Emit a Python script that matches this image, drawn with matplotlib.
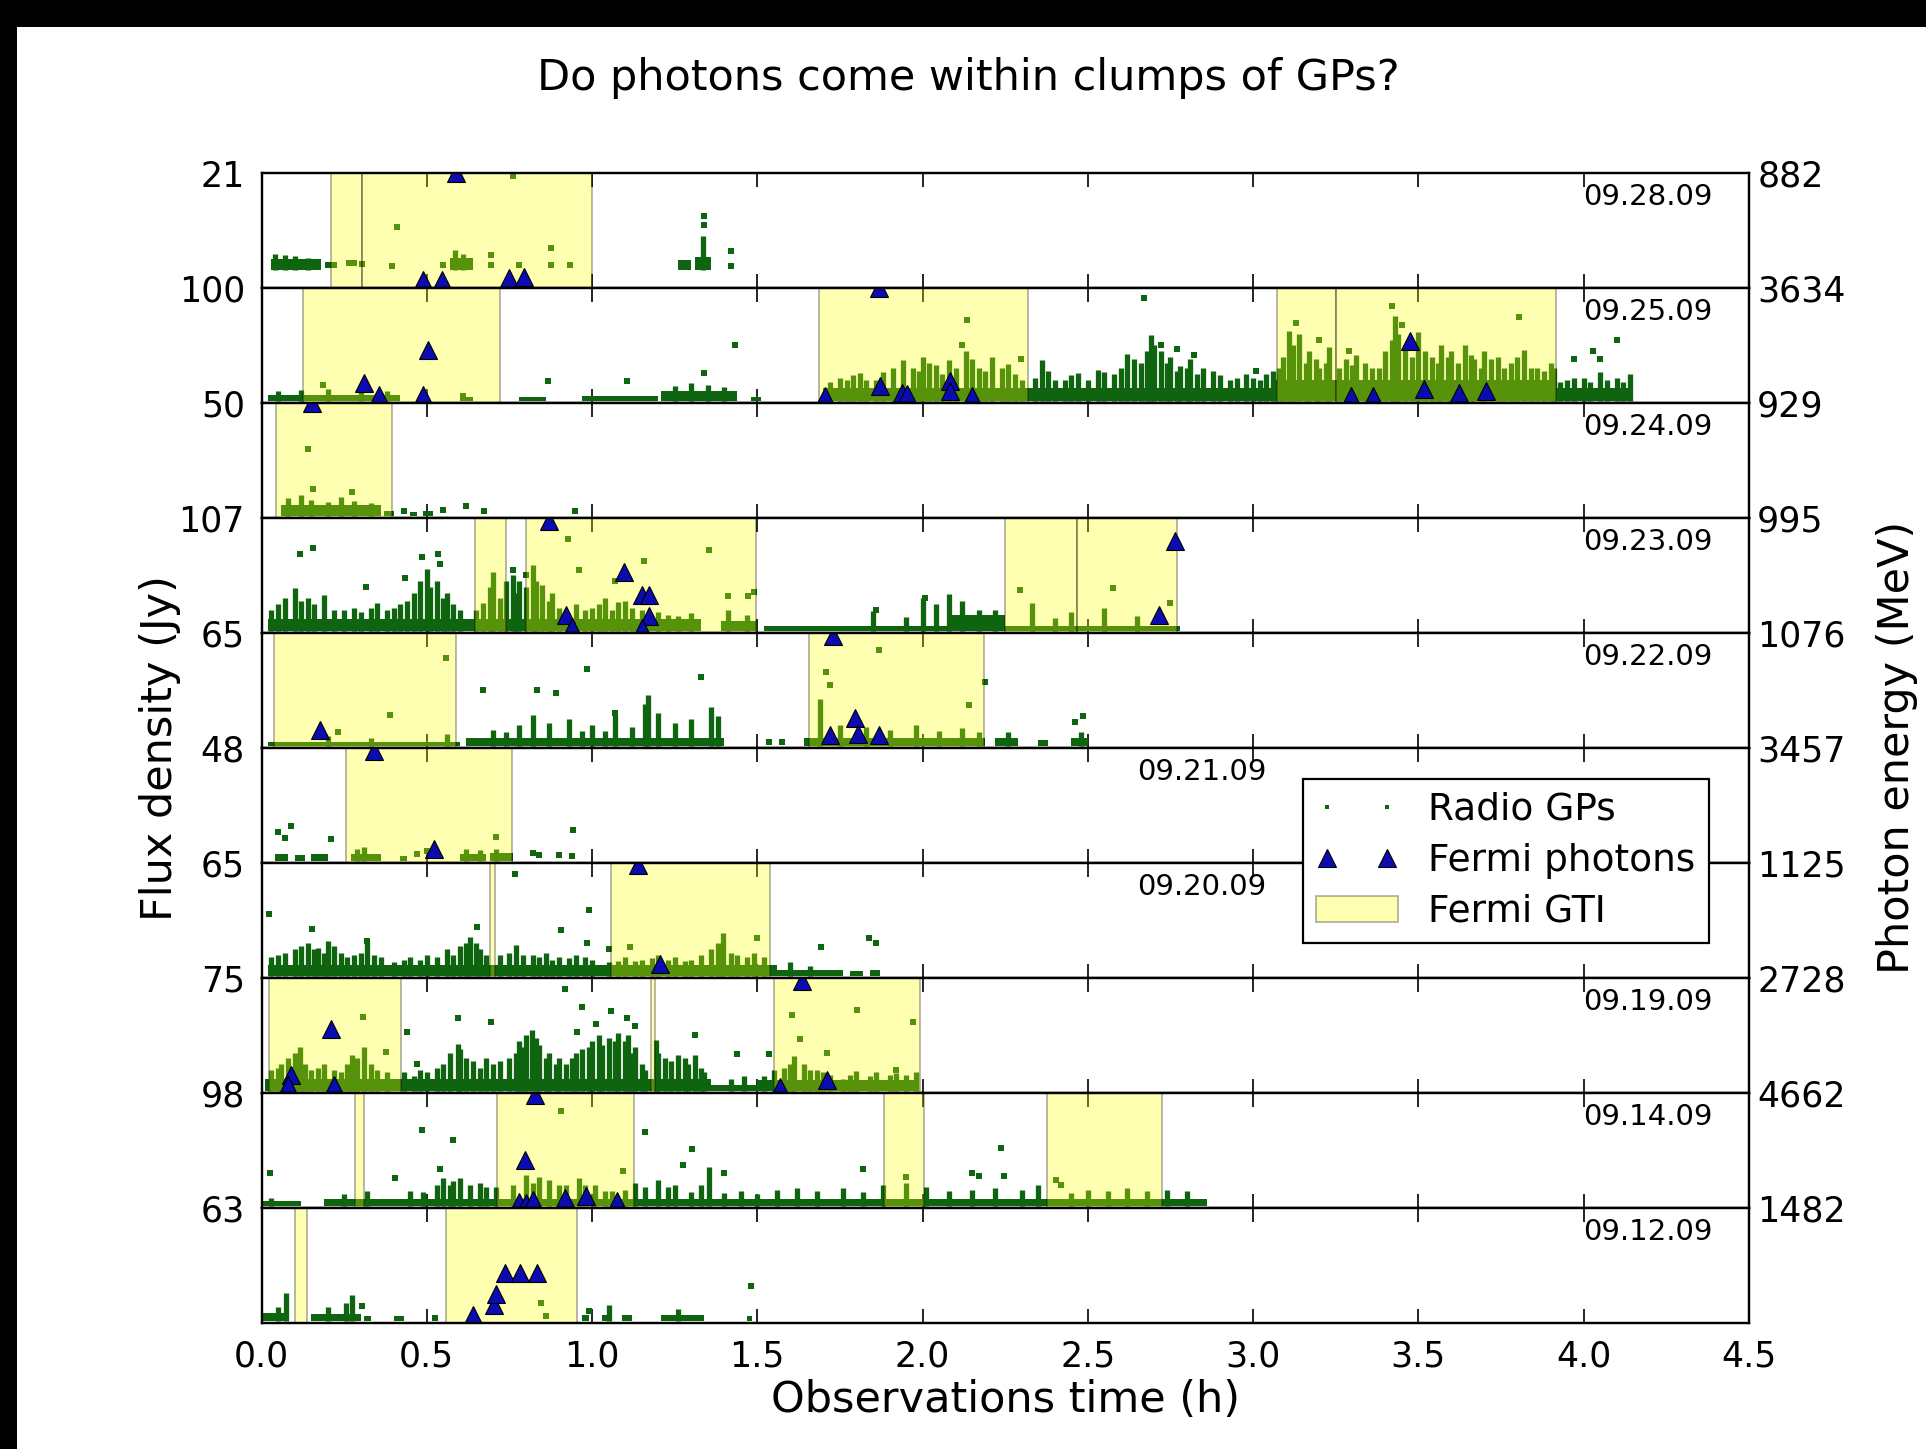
import matplotlib
matplotlib.use("Agg")
import matplotlib.pyplot as plt
from matplotlib.lines import Line2D
from matplotlib.patches import Patch, Rectangle

# ---------------- data (time in hours, heights normalised to each panel) ----------------
dates = ["09.28.09", "09.25.09", "09.24.09", "09.23.09", "09.22.09",
         "09.21.09", "09.20.09", "09.19.09", "09.14.09", "09.12.09"]
flux_labels = ["21", "100", "50", "107", "65", "48", "65", "75", "98", "63"]
energy_labels = ["882", "3634", "929", "995", "1076", "3457", "1125", "2728", "4662", "1482"]
gp_base = [0.16, 0.02, 0.02, 0.02, 0.02, 0.02, 0.02, 0.02, 0.02, 0.02]

# Fermi good time intervals (start, end)
gti_0928 = [(0.21, 0.305), (0.305, 1.0)]
gti_0925 = [(0.125, 0.72), (1.686, 2.32), (3.073, 3.252), (3.252, 3.916)]
gti_0924 = [(0.043, 0.395)]
gti_0923 = [(0.646, 0.74), (0.80, 1.497), (2.249, 2.467), (2.467, 2.77)]
gti_0922 = [(0.037, 0.588), (1.657, 2.186)]
gti_0921 = [(0.257, 0.757)]
gti_0920 = [(0.692, 0.705), (1.056, 1.538)]
gti_0919 = [(0.022, 0.423), (1.177, 1.19), (1.551, 1.993)]
gti_0914 = [(0.283, 0.31), (0.712, 1.128), (1.882, 2.005), (2.377, 2.725)]
gti_0912 = [(0.1, 0.138), (0.557, 0.953)]

# Fermi photons (time, normalised energy position)
ph_0928 = [(0.589, 1.0), (0.487, 0.07), (0.545, 0.07), (0.748, 0.09), (0.794, 0.1)]
ph_0925 = [(0.311, 0.17), (0.356, 0.07), (0.504, 0.46), (0.49, 0.07), (1.706, 0.065),
           (1.868, 1.0), (1.872, 0.15), (1.937, 0.09), (1.954, 0.08), (2.083, 0.19),
           (2.083, 0.1), (2.149, 0.06), (3.297, 0.06), (3.362, 0.06), (3.476, 0.54),
           (3.517, 0.12), (3.624, 0.09), (3.705, 0.1)]
ph_0924 = [(0.152, 1.0)]
ph_0923 = [(0.869, 0.97), (0.922, 0.16), (0.938, 0.055), (1.097, 0.53), (1.15, 0.33),
           (1.172, 0.33), (1.172, 0.15), (1.15, 0.04), (2.716, 0.16), (2.763, 0.8)]
ph_0922 = [(0.178, 0.16), (1.728, 0.97), (1.721, 0.11), (1.797, 0.26), (1.804, 0.12), (1.868, 0.11)]
ph_0921 = [(0.341, 0.97), (0.522, 0.12)]
ph_0920 = [(1.138, 0.98), (1.206, 0.12)]
ph_0919 = [(0.211, 0.56), (0.09, 0.155), (0.079, 0.07), (0.219, 0.07), (1.634, 0.97),
           (1.569, 0.05), (1.712, 0.11)]
ph_0914 = [(0.828, 0.98), (0.798, 0.42), (0.78, 0.05), (0.80, 0.04), (0.822, 0.07),
           (0.918, 0.09), (0.981, 0.1), (1.074, 0.06)]
ph_0912 = [(0.64, 0.065), (0.702, 0.16), (0.71, 0.25), (0.738, 0.43), (0.782, 0.43), (0.833, 0.43)]

# Radio giant pulses: dense bands (start, end, top), spikes (time, top), isolated pulses (time, y)
band_0928 = [(0.03, 0.18, 0.25), (0.57, 0.64, 0.26), (1.26, 1.30, 0.24), (1.31, 1.36, 0.27)]
spk_0928 = [(0.04, 0.3), (0.07, 0.29), (0.1, 0.28), (0.14, 0.26), (0.585, 0.33), (0.61, 0.3),
            (1.335, 0.45)]
dot_0928 = [(0.2, 0.2), (0.22, 0.2), (0.265, 0.22), (0.28, 0.22), (0.305, 0.21), (0.395, 0.19),
            (0.41, 0.53), (0.548, 0.2), (0.695, 0.29), (0.695, 0.2), (0.76, 0.97), (0.78, 0.2),
            (0.875, 0.35), (0.875, 0.2), (0.934, 0.2), (1.338, 0.55), (1.34, 0.63),
            (1.42, 0.32), (1.42, 0.19)]

band_0925 = [(0.02, 0.42, 0.07), (0.60, 0.64, 0.05), (0.78, 0.86, 0.05), (0.97, 1.20, 0.06),
             (1.21, 1.44, 0.1), (1.48, 1.51, 0.05), (1.70, 2.32, 0.13), (2.32, 3.07, 0.13),
             (3.07, 3.92, 0.2), (3.92, 4.15, 0.13)]
spk_0925 = [(0.05, 0.1), (0.12, 0.11), (0.2, 0.12), (0.3, 0.12), (0.38, 0.1),
            (1.25, 0.15), (1.3, 0.17), (1.35, 0.16), (1.4, 0.14),
            (1.72, 0.18), (1.75, 0.22), (1.77, 0.2), (1.79, 0.24), (1.81, 0.26), (1.83, 0.2),
            (1.86, 0.2), (1.88, 0.27), (1.91, 0.3), (1.94, 0.37), (1.97, 0.3), (1.99, 0.28),
            (2.0, 0.4), (2.02, 0.35), (2.04, 0.33), (2.06, 0.25), (2.08, 0.37), (2.1, 0.3),
            (2.13, 0.45), (2.15, 0.38), (2.17, 0.3), (2.19, 0.28), (2.21, 0.4), (2.24, 0.3),
            (2.26, 0.34), (2.28, 0.25), (2.3, 0.2), (2.34, 0.22), (2.36, 0.37), (2.38, 0.28),
            (2.4, 0.2), (2.43, 0.2), (2.45, 0.24), (2.47, 0.26), (2.5, 0.2), (2.53, 0.29),
            (2.55, 0.27), (2.58, 0.25), (2.6, 0.3), (2.62, 0.43), (2.64, 0.38), (2.66, 0.35),
            (2.68, 0.45), (2.69, 0.59), (2.7, 0.5), (2.72, 0.45), (2.74, 0.35), (2.75, 0.4),
            (2.77, 0.28), (2.78, 0.32), (2.8, 0.3), (2.81, 0.38), (2.83, 0.25), (2.85, 0.3),
            (2.88, 0.28), (2.9, 0.24), (2.93, 0.2), (2.95, 0.22), (2.98, 0.25), (3.0, 0.22),
            (3.02, 0.2), (3.04, 0.25), (3.06, 0.28), (3.08, 0.3), (3.09, 0.4), (3.11, 0.63),
            (3.12, 0.5), (3.14, 0.6), (3.16, 0.35), (3.17, 0.45), (3.19, 0.38), (3.2, 0.3),
            (3.22, 0.35), (3.23, 0.49), (3.26, 0.3), (3.28, 0.38), (3.3, 0.33), (3.31, 0.42),
            (3.34, 0.35), (3.36, 0.3), (3.38, 0.3), (3.4, 0.45), (3.42, 0.55), (3.43, 0.76),
            (3.44, 0.6), (3.46, 0.5), (3.48, 0.4), (3.5, 0.62), (3.52, 0.45), (3.54, 0.4),
            (3.56, 0.35), (3.57, 0.5), (3.59, 0.4), (3.6, 0.45), (3.62, 0.35), (3.64, 0.5),
            (3.66, 0.42), (3.67, 0.38), (3.69, 0.3), (3.7, 0.45), (3.72, 0.38), (3.74, 0.4),
            (3.76, 0.3), (3.78, 0.35), (3.8, 0.4), (3.82, 0.46), (3.84, 0.3), (3.86, 0.3),
            (3.88, 0.28), (3.9, 0.35), (3.91, 0.3), (3.93, 0.18), (3.95, 0.2), (3.97, 0.22),
            (4.0, 0.22), (4.02, 0.18), (4.05, 0.27), (4.07, 0.2), (4.1, 0.22), (4.12, 0.18),
            (4.14, 0.25)]
dot_0925 = [(0.185, 0.157), (0.61, 0.06), (0.868, 0.19), (1.107, 0.19), (1.339, 0.26),
            (1.433, 0.5), (2.135, 0.72), (2.12, 0.5), (2.299, 0.38), (2.669, 0.91),
            (2.72, 0.5), (2.77, 0.47), (2.82, 0.42), (3.01, 0.28), (3.13, 0.7), (3.2, 0.55),
            (3.42, 0.84), (3.45, 0.68), (3.805, 0.75), (3.29, 0.45), (3.97, 0.38),
            (4.03, 0.45), (4.05, 0.38), (4.102, 0.55)]

band_0924 = [(0.06, 0.36, 0.11), (0.37, 0.40, 0.06), (0.45, 0.47, 0.05), (0.49, 0.52, 0.06)]
spk_0924 = [(0.08, 0.17), (0.12, 0.2), (0.15, 0.16), (0.2, 0.14), (0.24, 0.18), (0.28, 0.15),
            (0.33, 0.13)]
dot_0924 = [(0.142, 0.6), (0.156, 0.25), (0.275, 0.23), (0.55, 0.07), (0.62, 0.1),
            (0.673, 0.06), (0.948, 0.06), (0.43, 0.06)]

band_0923 = [(0.02, 1.33, 0.12), (1.39, 1.50, 0.1), (1.52, 2.08, 0.06), (2.08, 2.25, 0.16),
             (2.25, 2.78, 0.06)]
spk_0923 = [(0.03, 0.2), (0.05, 0.25), (0.07, 0.3), (0.1, 0.39), (0.12, 0.28), (0.14, 0.3),
            (0.16, 0.25), (0.19, 0.33), (0.22, 0.2), (0.25, 0.2), (0.28, 0.22), (0.3, 0.18),
            (0.33, 0.22), (0.35, 0.26), (0.38, 0.2), (0.4, 0.22), (0.42, 0.25), (0.44, 0.28),
            (0.46, 0.35), (0.48, 0.45), (0.5, 0.56), (0.51, 0.4), (0.53, 0.45), (0.55, 0.3),
            (0.56, 0.35), (0.58, 0.25), (0.6, 0.2), (0.65, 0.2), (0.67, 0.26), (0.69, 0.4),
            (0.7, 0.53), (0.72, 0.3), (0.74, 0.45), (0.76, 0.5), (0.77, 0.35), (0.78, 0.45),
            (0.8, 0.4), (0.82, 0.59), (0.83, 0.45), (0.85, 0.42), (0.87, 0.28), (0.88, 0.35),
            (0.9, 0.22), (0.95, 0.25), (0.98, 0.2), (1.0, 0.22), (1.02, 0.25), (1.04, 0.3),
            (1.06, 0.2), (1.08, 0.27), (1.1, 0.28), (1.12, 0.22), (1.15, 0.2), (1.2, 0.18),
            (1.23, 0.16), (1.26, 0.15), (1.3, 0.17), (1.41, 0.2), (1.47, 0.16), (1.85, 0.19),
            (1.95, 0.14), (2.0, 0.3), (2.04, 0.25), (2.08, 0.34), (2.12, 0.28), (2.17, 0.2),
            (2.22, 0.2), (2.33, 0.26), (2.4, 0.13), (2.45, 0.18), (2.55, 0.22), (2.65, 0.15)]
dot_0923 = [(0.116, 0.69), (0.156, 0.74), (0.315, 0.4), (0.434, 0.48), (0.485, 0.66),
            (0.535, 0.69), (0.54, 0.6), (0.926, 0.82), (0.962, 0.55), (1.07, 0.45),
            (1.158, 0.63), (1.353, 0.72), (1.411, 0.32), (1.473, 0.32), (1.49, 0.36),
            (0.76, 0.55), (0.8, 0.5), (1.86, 0.2), (2.294, 0.37), (2.577, 0.39), (2.748, 0.26),
            (2.006, 0.3)]

band_0922 = [(0.02, 0.6, 0.05), (0.62, 1.40, 0.09), (1.64, 2.19, 0.09), (2.22, 2.29, 0.09),
             (2.35, 2.38, 0.07), (2.45, 2.50, 0.09)]
spk_0922 = [(0.2, 0.1), (0.33, 0.09), (0.56, 0.12), (0.7, 0.16), (0.74, 0.14), (0.78, 0.2),
            (0.82, 0.29), (0.87, 0.22), (0.93, 0.25), (0.97, 0.15), (1.0, 0.2), (1.04, 0.15),
            (1.07, 0.29), (1.12, 0.18), (1.16, 0.38), (1.17, 0.46), (1.2, 0.3), (1.25, 0.22),
            (1.3, 0.25), (1.36, 0.36), (1.38, 0.28), (1.69, 0.43), (1.75, 0.2), (1.83, 0.18),
            (1.9, 0.16), (1.98, 0.2), (2.05, 0.15), (2.12, 0.17), (2.17, 0.14), (2.26, 0.14),
            (2.48, 0.14)]
dot_0922 = [(0.232, 0.14), (0.39, 0.29), (0.557, 0.78), (0.67, 0.5), (0.832, 0.5), (0.89, 0.48),
            (0.984, 0.69), (1.07, 0.3), (1.331, 0.62), (1.535, 0.05), (1.575, 0.05),
            (1.708, 0.66), (1.867, 0.85), (2.142, 0.37), (2.19, 0.57), (2.486, 0.28),
            (2.46, 0.23), (1.72, 0.55)]

band_0921 = [(0.04, 0.08, 0.08), (0.1, 0.13, 0.07), (0.15, 0.2, 0.08), (0.27, 0.36, 0.08),
             (0.42, 0.44, 0.06), (0.6, 0.68, 0.08), (0.69, 0.76, 0.09)]
spk_0921 = [(0.29, 0.12), (0.31, 0.14), (0.62, 0.12), (0.66, 0.11), (0.71, 0.12)]
dot_0921 = [(0.05, 0.27), (0.07, 0.22), (0.09, 0.32), (0.21, 0.21), (0.47, 0.08), (0.5, 0.1),
            (0.709, 0.23), (0.82, 0.09), (0.84, 0.07), (0.9, 0.07), (0.94, 0.06), (0.941, 0.29)]

band_0920 = [(0.02, 1.56, 0.11), (1.56, 1.76, 0.07), (1.78, 1.82, 0.06), (1.84, 1.87, 0.07)]
spk_0920 = [(0.03, 0.18), (0.05, 0.2), (0.07, 0.22), (0.1, 0.25), (0.12, 0.28), (0.14, 0.3),
            (0.16, 0.25), (0.17, 0.26), (0.19, 0.22), (0.2, 0.32), (0.22, 0.28), (0.24, 0.22),
            (0.26, 0.18), (0.28, 0.2), (0.3, 0.22), (0.32, 0.32), (0.34, 0.2), (0.36, 0.18),
            (0.4, 0.14), (0.43, 0.16), (0.45, 0.18), (0.48, 0.16), (0.5, 0.2), (0.53, 0.18),
            (0.56, 0.25), (0.58, 0.2), (0.6, 0.28), (0.62, 0.3), (0.63, 0.36), (0.65, 0.3),
            (0.66, 0.25), (0.68, 0.2), (0.72, 0.2), (0.75, 0.22), (0.77, 0.29), (0.79, 0.2),
            (0.82, 0.2), (0.84, 0.18), (0.86, 0.22), (0.88, 0.16), (0.9, 0.18), (0.93, 0.17),
            (0.95, 0.2), (0.98, 0.18), (1.0, 0.16), (1.05, 0.14), (1.08, 0.15), (1.1, 0.18),
            (1.13, 0.15), (1.15, 0.16), (1.18, 0.17), (1.2, 0.2), (1.23, 0.16), (1.25, 0.18),
            (1.28, 0.15), (1.3, 0.16), (1.33, 0.2), (1.36, 0.25), (1.38, 0.3), (1.397, 0.39),
            (1.42, 0.22), (1.44, 0.2), (1.47, 0.18), (1.49, 0.22), (1.52, 0.18), (1.6, 0.14),
            (1.66, 0.1)]
dot_0920 = [(0.022, 0.56), (0.152, 0.43), (0.318, 0.32), (0.651, 0.44), (0.767, 0.9),
            (0.905, 0.42), (0.985, 0.3), (0.991, 0.59), (1.115, 0.27), (1.5, 0.35),
            (1.693, 0.27), (1.838, 0.35), (1.86, 0.3), (1.05, 0.25)]

band_0919 = [(0.01, 1.36, 0.12), (1.36, 1.50, 0.07), (1.50, 1.99, 0.11)]
spk_0919 = [(0.03, 0.2), (0.05, 0.22), (0.06, 0.25), (0.08, 0.3), (0.1, 0.35), (0.116, 0.4),
            (0.13, 0.25), (0.15, 0.2), (0.17, 0.22), (0.19, 0.25), (0.22, 0.2), (0.24, 0.18),
            (0.26, 0.25), (0.275, 0.33), (0.29, 0.3), (0.31, 0.4), (0.33, 0.25), (0.35, 0.2),
            (0.38, 0.18), (0.43, 0.18), (0.46, 0.15), (0.48, 0.2), (0.5, 0.18), (0.53, 0.22),
            (0.55, 0.25), (0.57, 0.35), (0.593, 0.43), (0.6, 0.38), (0.62, 0.3), (0.64, 0.28),
            (0.66, 0.22), (0.68, 0.3), (0.7, 0.25), (0.72, 0.28), (0.75, 0.3), (0.77, 0.35),
            (0.78, 0.45), (0.79, 0.4), (0.8, 0.5), (0.818, 0.55), (0.83, 0.48), (0.84, 0.42),
            (0.86, 0.3), (0.87, 0.35), (0.89, 0.25), (0.9, 0.3), (0.92, 0.25), (0.94, 0.3),
            (0.95, 0.35), (0.97, 0.38), (0.99, 0.4), (1.0, 0.45), (1.02, 0.5), (1.03, 0.42),
            (1.05, 0.48), (1.07, 0.45), (1.08, 0.52), (1.1, 0.45), (1.11, 0.5), (1.12, 0.35),
            (1.13, 0.4), (1.15, 0.25), (1.16, 0.2), (1.194, 0.46), (1.2, 0.35), (1.22, 0.3),
            (1.24, 0.28), (1.26, 0.33), (1.28, 0.3), (1.29, 0.25), (1.31, 0.33), (1.33, 0.22),
            (1.34, 0.18), (1.42, 0.12), (1.46, 0.15), (1.52, 0.15), (1.55, 0.2), (1.58, 0.22),
            (1.6, 0.25), (1.61, 0.32), (1.64, 0.25), (1.66, 0.2), (1.68, 0.2), (1.7, 0.18),
            (1.72, 0.16), (1.76, 0.12), (1.78, 0.16), (1.8, 0.19), (1.84, 0.15), (1.86, 0.18),
            (1.9, 0.16), (1.92, 0.17), (1.95, 0.16), (1.98, 0.18)]
dot_0919 = [(0.308, 0.66), (0.376, 0.36), (0.441, 0.53), (0.47, 0.25), (0.593, 0.65),
            (0.695, 0.62), (0.919, 0.9), (0.955, 0.53), (0.97, 0.75), (1.013, 0.6),
            (1.056, 0.71), (1.107, 0.65), (1.13, 0.58), (1.31, 0.5), (1.44, 0.34),
            (1.535, 0.34), (1.606, 0.68), (1.628, 0.47), (1.71, 0.35), (1.802, 0.72),
            (1.971, 0.62), (1.92, 0.2)]

band_0914 = [(0.0, 0.12, 0.06), (0.19, 2.86, 0.08)]
spk_0914 = [(0.03, 0.09), (0.25, 0.12), (0.32, 0.15), (0.45, 0.15), (0.49, 0.14), (0.53, 0.2),
            (0.55, 0.26), (0.57, 0.2), (0.58, 0.23), (0.6, 0.26), (0.63, 0.2), (0.66, 0.22),
            (0.68, 0.18), (0.71, 0.18), (0.76, 0.2), (0.8, 0.29), (0.82, 0.22), (0.84, 0.27),
            (0.87, 0.24), (0.9, 0.2), (0.92, 0.2), (0.96, 0.26), (0.98, 0.2), (1.01, 0.2),
            (1.04, 0.15), (1.06, 0.15), (1.1, 0.16), (1.13, 0.22), (1.16, 0.18), (1.2, 0.24),
            (1.23, 0.18), (1.25, 0.2), (1.3, 0.14), (1.33, 0.2), (1.354, 0.36), (1.4, 0.13),
            (1.45, 0.15), (1.5, 0.12), (1.56, 0.16), (1.62, 0.17), (1.68, 0.15), (1.76, 0.17),
            (1.82, 0.14), (1.88, 0.2), (1.95, 0.22), (2.01, 0.18), (2.08, 0.15), (2.15, 0.16),
            (2.22, 0.17), (2.3, 0.16), (2.35, 0.2), (2.45, 0.13), (2.5, 0.16), (2.56, 0.15),
            (2.62, 0.17), (2.68, 0.15), (2.74, 0.16), (2.8, 0.15)]
dot_0914 = [(0.025, 0.3), (0.405, 0.26), (0.485, 0.68), (0.54, 0.34), (0.579, 0.59),
            (0.905, 0.84), (1.093, 0.32), (1.159, 0.66), (1.274, 0.37), (1.303, 0.51),
            (1.4, 0.3), (1.82, 0.34), (1.95, 0.27), (2.15, 0.3), (2.17, 0.28), (2.237, 0.52),
            (2.245, 0.28), (2.403, 0.24), (2.42, 0.2)]

band_0912 = [(0.0, 0.08, 0.09), (0.15, 0.3, 0.08), (0.31, 0.33, 0.06), (0.4, 0.43, 0.06),
             (0.515, 0.535, 0.07), (0.97, 0.99, 0.07), (1.03, 1.06, 0.07), (1.09, 1.12, 0.07),
             (1.21, 1.34, 0.07), (1.47, 1.485, 0.06)]
spk_0912 = [(0.075, 0.26), (0.05, 0.14), (0.2, 0.14), (0.255, 0.17), (0.275, 0.24),
            (1.05, 0.16), (1.26, 0.12)]
dot_0912 = [(0.846, 0.17), (0.862, 0.06), (0.305, 0.15), (1.48, 0.32), (0.99, 0.1)]

gtis = [gti_0928, gti_0925, gti_0924, gti_0923, gti_0922, gti_0921, gti_0920, gti_0919, gti_0914, gti_0912]
photons = [ph_0928, ph_0925, ph_0924, ph_0923, ph_0922, ph_0921, ph_0920, ph_0919, ph_0914, ph_0912]
bands = [band_0928, band_0925, band_0924, band_0923, band_0922, band_0921, band_0920, band_0919, band_0914, band_0912]
spikes = [spk_0928, spk_0925, spk_0924, spk_0923, spk_0922, spk_0921, spk_0920, spk_0919, spk_0914, spk_0912]
dots = [dot_0928, dot_0925, dot_0924, dot_0923, dot_0922, dot_0921, dot_0920, dot_0919, dot_0914, dot_0912]

x_ticks = [0.0, 0.5, 1.0, 1.5, 2.0, 2.5, 3.0, 3.5, 4.0, 4.5]
date_x = [4.0, 4.0, 4.0, 4.0, 4.0, 2.65, 2.65, 4.0, 4.0, 4.0]

# ---------------- styling ----------------
GP_COL = "#0f650f"
PH_COL = "#0b0bb0"
TICK_FS = 25
LABEL_FS = 31

plt.rcParams["font.family"] = ["DejaVu Sans"]

fig = plt.figure(figsize=(19.26, 14.49), dpi=100)
fig.patch.set_facecolor("white")
gs = fig.add_gridspec(10, 1, hspace=0, left=0.1358, right=0.908, top=0.8806, bottom=0.0870)

axes = []
for i in range(10):
    ax = fig.add_subplot(gs[i], sharex=axes[0] if axes else None)
    axes.append(ax)
    ax.set_xlim(0, 4.5)
    ax.set_ylim(0, 1)
    base = gp_base[i]

    # radio giant pulses
    for a, b, top in bands[i]:
        ax.broken_barh([(a, b - a)], (base, top - base), facecolor=GP_COL,
                       edgecolor="none", zorder=2)
    if spikes[i]:
        ax.vlines([s[0] for s in spikes[i]], base, [s[1] for s in spikes[i]],
                  color=GP_COL, linewidth=3.8, zorder=2)
    if dots[i]:
        ax.plot([d[0] for d in dots[i]], [d[1] for d in dots[i]], "s", color=GP_COL,
                markersize=4.0, markeredgewidth=0, zorder=2)

    # Fermi GTIs (translucent, tinting the pulses underneath)
    for a, b in gtis[i]:
        ax.axvspan(a, b, facecolor="yellow", edgecolor="black", linewidth=1.3,
                   alpha=0.3, zorder=3)

    # Fermi photons
    ax.plot([p[0] for p in photons[i]], [p[1] for p in photons[i]], "^",
            color=PH_COL, markeredgecolor="black", markeredgewidth=0.8,
            markersize=12.5, linestyle="none", zorder=5)

    # date label
    ax.text(date_x[i], 0.79, dates[i], ha="left", va="center", fontsize=21, zorder=6)

    ax.set_xticks(x_ticks)
    ax.tick_params(axis="x", direction="in", top=True, bottom=True, length=10,
                   width=1.2, labelbottom=(i == 9), labelsize=TICK_FS, pad=12)
    ax.set_yticks([1.0])
    ax.set_yticklabels([flux_labels[i]])
    ax.tick_params(axis="y", length=0, pad=12, labelsize=TICK_FS)
    for sp in ax.spines.values():
        sp.set_linewidth(1.6)
        sp.set_zorder(7)

    ax2 = ax.twinx()
    ax2.set_ylim(0, 1)
    ax2.set_yticks([1.0])
    ax2.set_yticklabels([energy_labels[i]])
    ax2.tick_params(axis="y", length=0, pad=6, labelsize=TICK_FS)
    for sp in ax2.spines.values():
        sp.set_linewidth(1.6)

axes[-1].set_xticklabels([f"{v:.1f}" for v in x_ticks])

fig.text(0.5026, 0.9465, "Do photons come within clumps of GPs?", ha="center", va="center",
         fontsize=LABEL_FS)
fig.text(0.522, 0.034, "Observations time (h)", ha="center", va="center", fontsize=LABEL_FS)
fig.text(0.083, 0.484, "Flux density (Jy)", ha="center", va="center", rotation=90,
         fontsize=LABEL_FS)
fig.text(0.985, 0.484, "Photon energy (MeV)", ha="center", va="center", rotation=90,
         fontsize=LABEL_FS)

handles = [Line2D([], [], marker="s", linestyle="none", color=GP_COL, markersize=3.0,
                  markeredgewidth=0),
           Line2D([], [], marker="^", linestyle="none", color=PH_COL, markeredgecolor="black",
                  markeredgewidth=0.8, markersize=12.5),
           Patch(facecolor="yellow", edgecolor="black", alpha=0.3, linewidth=1.3)]
leg = fig.legend(handles, ["Radio GPs", "Fermi photons", "Fermi GTI"], loc="upper right",
                 bbox_to_anchor=(0.897, 0.4755), fontsize=27, numpoints=2, frameon=True,
                 fancybox=False, framealpha=1, edgecolor="black", handlelength=2.2,
                 handletextpad=0.8, labelspacing=0.4, borderpad=0.35)
leg.get_frame().set_linewidth(1.6)
leg.set_zorder(10)

# black border strips of the original screenshot
fig.patches.append(Rectangle((0, 1 - 0.0186), 1, 0.0186, transform=fig.transFigure,
                             facecolor="black", edgecolor="none", zorder=20))
fig.patches.append(Rectangle((0, 0), 0.0088, 1, transform=fig.transFigure,
                             facecolor="black", edgecolor="none", zorder=20))

fig.savefig("out.png", dpi=100, facecolor="white")
